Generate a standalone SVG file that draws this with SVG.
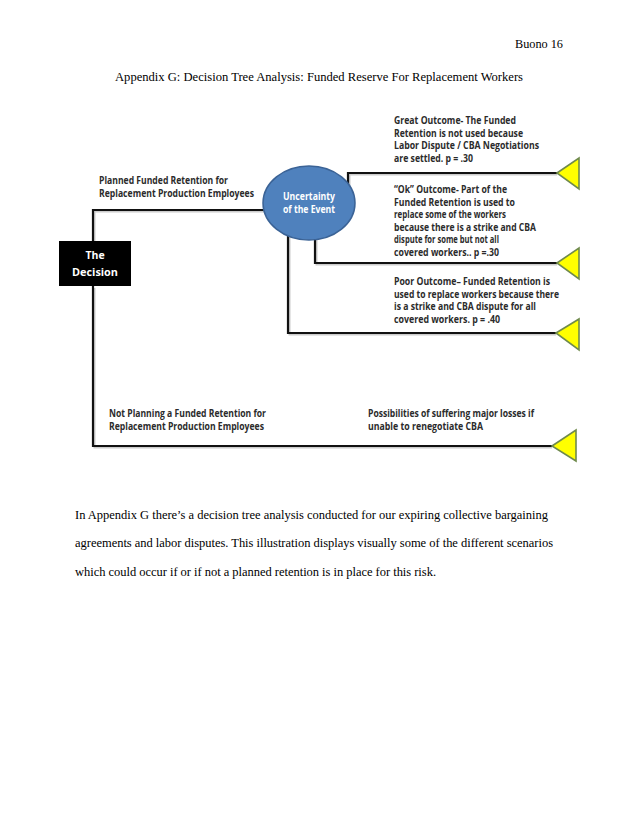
<svg xmlns="http://www.w3.org/2000/svg" width="638" height="826" viewBox="0 0 638 826">
<style>
.serif{font-family:"Liberation Serif","Times New Roman",serif;font-size:12.5px;fill:#000}
.lbl{font-family:"Open Sans","Liberation Sans",sans-serif;font-weight:700;font-size:10px;fill:#2b2b2b}
.wht{font-family:"Open Sans","Liberation Sans",sans-serif;font-weight:700;font-size:10.5px;fill:#fff}
.ln{fill:none;stroke:#111;stroke-width:2.2;stroke-linejoin:miter}
.sh{fill:none;stroke:#999;stroke-width:2;opacity:0.5}
.tri{fill:#ffff00;stroke:#6f8a4c;stroke-width:1.6}
</style>
<rect width="638" height="826" fill="#fff"/>
<text class="serif" x="515" y="48" textLength="48" lengthAdjust="spacingAndGlyphs">Buono  16</text>
<text class="serif" x="115" y="81" textLength="408" lengthAdjust="spacingAndGlyphs">Appendix  G: Decision  Tree  Analysis:  Funded  Reserve  For  Replacement  Workers</text>

<g id="connectors">
<path class="sh" d="M94.5,243 V211.5 H265"/>
<path class="sh" d="M349.5,190 V174.5 H557"/>
<path class="sh" d="M316.5,240 V264.5 H557"/>
<path class="sh" d="M289.5,236 V334.5 H556"/>
<path class="sh" d="M94.5,288 V447.5 H552"/>
<path class="ln" d="M93,241 V210 H266"/>
<path class="ln" d="M348,186 V173 H558"/>
<path class="ln" d="M315,239 V263 H558"/>
<path class="ln" d="M288,235 V333 H557"/>
<path class="ln" d="M93,286 V446 H553"/>
</g>

<g id="decision">
<rect x="59" y="241" width="72" height="45" fill="#000"/>
<text class="wht" x="95" y="259" text-anchor="middle">The</text>
<text class="wht" x="95" y="276" text-anchor="middle" textLength="46" lengthAdjust="spacingAndGlyphs">Decision</text>
</g>

<g id="uncertainty">
<ellipse cx="309" cy="203" rx="46" ry="37" fill="#4f81bd" stroke="#3b6396" stroke-width="1.5"/>
<text class="wht" x="309" y="200" text-anchor="middle" textLength="52" lengthAdjust="spacingAndGlyphs">Uncertainty</text>
<text class="wht" x="309" y="213" text-anchor="middle" textLength="52" lengthAdjust="spacingAndGlyphs">of the Event</text>
</g>

<g id="planned-label">
<text class="lbl" x="99" y="184" textLength="129" lengthAdjust="spacingAndGlyphs">Planned Funded Retention for</text>
<text class="lbl" x="99" y="197" textLength="155" lengthAdjust="spacingAndGlyphs">Replacement Production Employees</text>
</g>

<g id="not-planning-label">
<text class="lbl" x="109" y="417" textLength="157" lengthAdjust="spacingAndGlyphs">Not Planning a Funded Retention for</text>
<text class="lbl" x="109" y="430" textLength="155" lengthAdjust="spacingAndGlyphs">Replacement Production Employees</text>
</g>

<g id="great-outcome">
<polygon class="tri" points="557,173 579,158 579,189"/>
<text class="lbl" x="394" y="124" textLength="122" lengthAdjust="spacingAndGlyphs">Great Outcome- The Funded</text>
<text class="lbl" x="394" y="136.5" textLength="129" lengthAdjust="spacingAndGlyphs">Retention is not used because</text>
<text class="lbl" x="394" y="149" textLength="145" lengthAdjust="spacingAndGlyphs">Labor Dispute / CBA Negotiations</text>
<text class="lbl" x="394" y="161.5" textLength="79" lengthAdjust="spacingAndGlyphs">are settled. p = .30</text>
</g>

<g id="ok-outcome">
<polygon class="tri" points="557,263 579,248 579,279"/>
<text class="lbl" x="394" y="193" textLength="113" lengthAdjust="spacingAndGlyphs">“Ok” Outcome- Part of the</text>
<text class="lbl" x="394" y="205.5" textLength="121" lengthAdjust="spacingAndGlyphs">Funded Retention is used to</text>
<text class="lbl" x="394" y="218" textLength="112" lengthAdjust="spacingAndGlyphs">replace some of the workers</text>
<text class="lbl" x="394" y="230.5" textLength="142" lengthAdjust="spacingAndGlyphs">because there is a strike and CBA</text>
<text class="lbl" x="394" y="243" textLength="105" lengthAdjust="spacingAndGlyphs">dispute for some but not all</text>
<text class="lbl" x="394" y="255.5" textLength="105" lengthAdjust="spacingAndGlyphs">covered workers.. p =.30</text>
</g>

<g id="poor-outcome">
<polygon class="tri" points="556,333 579,319 579,350"/>
<text class="lbl" x="394" y="285" textLength="156" lengthAdjust="spacingAndGlyphs">Poor Outcome– Funded Retention is</text>
<text class="lbl" x="394" y="297.5" textLength="165" lengthAdjust="spacingAndGlyphs">used to replace workers because there</text>
<text class="lbl" x="394" y="310" textLength="142" lengthAdjust="spacingAndGlyphs">is a strike  and CBA dispute for all</text>
<text class="lbl" x="394" y="322.5" textLength="106" lengthAdjust="spacingAndGlyphs">covered workers. p = .40</text>
</g>

<g id="losses-outcome">
<polygon class="tri" points="552,446 576,430 576,461"/>
<text class="lbl" x="368" y="417" textLength="166" lengthAdjust="spacingAndGlyphs">Possibilities of suffering major losses if</text>
<text class="lbl" x="368" y="430" textLength="115" lengthAdjust="spacingAndGlyphs">unable to renegotiate CBA</text>
</g>

<text class="serif" x="75" y="519" textLength="473" lengthAdjust="spacing">In Appendix  G there’s  a decision  tree analysis  conducted  for our expiring  collective  bargaining</text>
<text class="serif" x="75" y="547" textLength="478" lengthAdjust="spacing">agreements  and labor disputes.  This  illustration  displays  visually  some of the different  scenarios</text>
<text class="serif" x="75" y="576" textLength="361" lengthAdjust="spacing">which  could  occur if or if not a planned  retention  is in place  for this risk.</text>
</svg>
